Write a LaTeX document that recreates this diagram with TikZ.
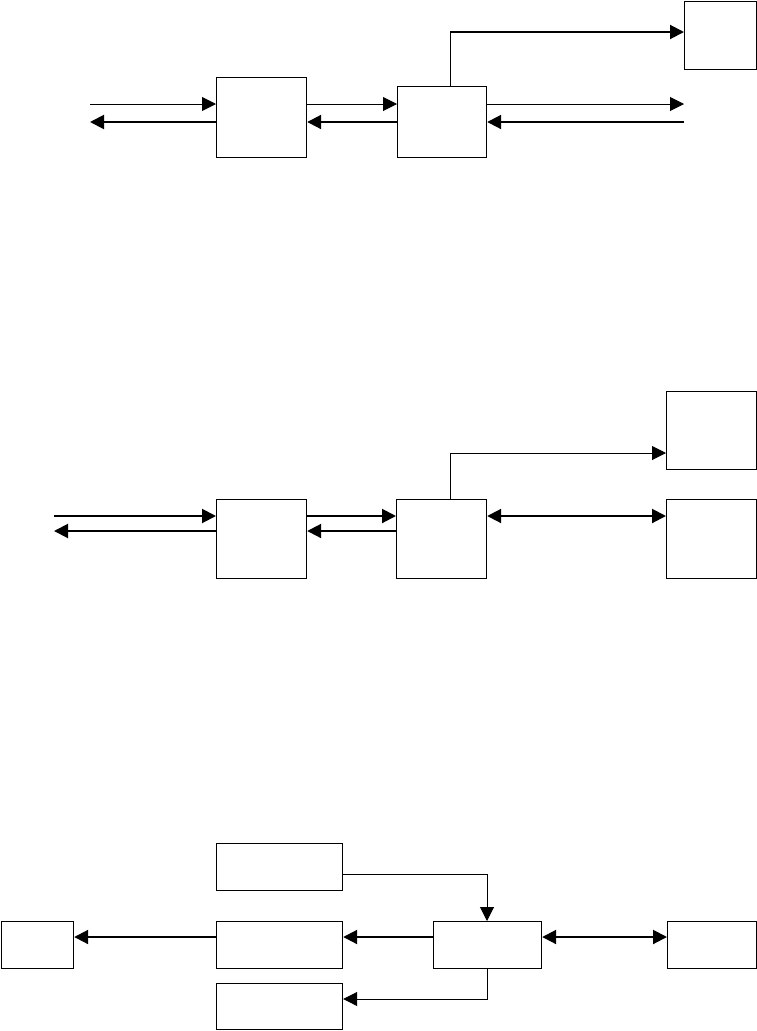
\documentclass[tikz,border=0pt]{standalone}
\usetikzlibrary{arrows.meta}
\begin{document}
\begin{tikzpicture}[x=1pt,y=-1pt,
  box/.style={draw,line width=1.2pt,inner sep=0pt,anchor=north west},
  thinln/.style={line width=1pt},
  thickln/.style={line width=2pt},
  arr/.style={-{Triangle[length=14pt,width=14pt]}},
  darr/.style={{Triangle[length=14pt,width=14pt]}-{Triangle[length=14pt,width=14pt]}}]
\useasboundingbox (0,0) rectangle (757,1031);
% ---------- top diagram ----------
\node[box,minimum width=90pt,minimum height=80pt] (A1) at (216,77) {};
\node[box,minimum width=89pt,minimum height=71pt] (B1) at (397,86) {};
\node[box,minimum width=72pt,minimum height=68pt] (C1) at (684,1) {};
\coordinate (in1) at (90,104);
\coordinate (out1) at (90,122);
\coordinate (rin1) at (684,104);
\coordinate (rout1) at (684,122);
\coordinate (k1) at (450,32);
\draw[thinln,arr] (in1) -- (A1.west |- in1);
\draw[thickln,arr] (A1.west |- out1) -- (out1);
\draw[thinln,arr] (A1.east |- in1) -- (B1.west |- in1);
\draw[thickln,arr] (B1.west |- out1) -- (A1.east |- out1);
\draw[thinln,arr] (B1.east |- rin1) -- (rin1);
\draw[thickln,arr] (rout1) -- (B1.east |- rout1);
\draw[thinln] (B1.north -| k1) -- (k1);
\draw[thickln,arr] (k1) -- (C1.west |- k1);
% ---------- middle diagram ----------
\node[box,minimum width=90pt,minimum height=79pt] (A2) at (216,499) {};
\node[box,minimum width=90pt,minimum height=79pt] (B2) at (396,499) {};
\node[box,minimum width=90pt,minimum height=78pt] (C2) at (666,391) {};
\node[box,minimum width=90pt,minimum height=79pt] (D2) at (666,499) {};
\coordinate (in2) at (54,516);
\coordinate (out2) at (54,531);
\coordinate (k2) at (450,453);
\draw[thickln,arr] (in2) -- (A2.west |- in2);
\draw[thickln,arr] (A2.west |- out2) -- (out2);
\draw[thickln,arr] (A2.east |- in2) -- (B2.west |- in2);
\draw[thickln,arr] (B2.west |- out2) -- (A2.east |- out2);
\draw[thickln,darr] (B2.east |- in2) -- (D2.west |- in2);
\draw[thinln] (B2.north -| k2) -- (k2);
\draw[thinln,arr] (k2) -- (C2.west |- k2);
% ---------- bottom diagram ----------
\node[box,minimum width=126pt,minimum height=47pt] (T3) at (216,843) {};
\node[box,minimum width=72pt,minimum height=47pt] (L3) at (1,921) {};
\node[box,minimum width=126pt,minimum height=47pt] (M3) at (216,921) {};
\node[box,minimum width=108pt,minimum height=47pt] (N3) at (433,921) {};
\node[box,minimum width=89pt,minimum height=47pt] (R3) at (667,921) {};
\node[box,minimum width=126pt,minimum height=46pt] (B3) at (216,983) {};
\coordinate (m3) at (0,937);
\coordinate (p3) at (487,874);
\coordinate (q3) at (487,999);
\draw[thickln,arr] (M3.west |- m3) -- (L3.east |- m3);
\draw[thickln,arr] (N3.west |- m3) -- (M3.east |- m3);
\draw[thickln,darr] (N3.east |- m3) -- (R3.west |- m3);
\draw[thinln,arr] (T3.east |- p3) -- (p3) -- (N3.north -| p3);
\draw[thinln,arr] (N3.south -| q3) -- (q3) -- (B3.east |- q3);
\end{tikzpicture}
\end{document}
